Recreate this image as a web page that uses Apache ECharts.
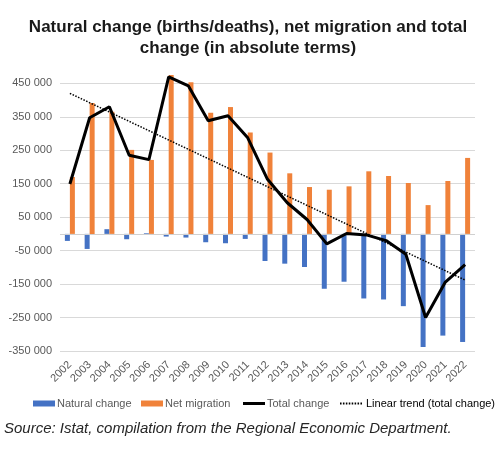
<!DOCTYPE html>
<html><head><meta charset="utf-8">
<script src="https://cdn.jsdelivr.net/npm/echarts@6/dist/echarts.min.js"></script>
<style>html,body{margin:0;padding:0;background:#fff}#c{width:496px;height:455px}</style>
</head><body><div id="c"></div>
<script>
const years = ['2002','2003','2004','2005','2006','2007','2008','2009','2010','2011','2012','2013','2014','2015','2016','2017','2018','2019','2020','2021','2022'];
const naturalChange = [-21000,-45000,14000,-16000,2000,-8000,-11000,-25000,-28000,-15000,-81000,-89000,-99000,-164000,-143000,-193000,-196000,-216000,-338000,-304000,-323000];
const netMigration = [170000,391000,365000,251000,221000,475000,453000,362000,379000,303000,243000,181000,140000,132000,142000,187000,173000,152000,86000,158000,227000];
const totalChange = [149000,347000,380000,235000,222000,469000,442000,338000,353000,287000,163000,93000,43000,-30000,1000,-3000,-20000,-61000,-250000,-144000,-92000];
const trendEnds = [420000,-138000];

const trend = years.map((y,i)=> i===0 ? trendEnds[0] : (i===years.length-1 ? trendEnds[1] : null));
const fmt = v => { const s = Math.abs(v).toString().replace(/\B(?=(\d{3})+(?!\d))/g,' '); return (v<0?'-':'')+s; };
const font = '"Liberation Sans",Arial,sans-serif';
let dots = '';
for (let i=0;i<8;i++){ dots += 'M'+(i*3)+',0h1.6v2h-1.6z'; }
const dotIcon = 'path://'+dots;
const chart = echarts.init(document.getElementById('c'), null, {renderer:'canvas'});
const lg = (name,left,extra) => Object.assign({data:[name], left:left, top:398, padding:0, itemWidth:22, itemHeight:6, itemGap:0,
  textStyle:{fontFamily:font, fontSize:11, color:'#595959', padding:[0,0,0,-3]}}, extra||{});
chart.setOption({
  animation:false,
  title:{text:'Natural change (births/deaths), net migration and total\nchange (in absolute terms)', left:'center', top:12,
    textStyle:{fontFamily:font, fontWeight:'bold', fontSize:17, lineHeight:21, color:'#1a1a1a'}},
  graphic:[{type:'text', left:4, top:421, style:{text:'Source: Istat, compilation from the Regional Economic Department.', fontFamily:font, fontStyle:'italic', fontSize:15, fill:'#262626'}}],
  legend:[
    lg('Natural change',33,{icon:'rect'}),
    lg('Net migration',141,{icon:'rect'}),
    lg('Total change',243,{icon:'rect', itemHeight:3}),
    lg('Linear trend (total change)',340,{icon:dotIcon, itemHeight:2, textStyle:{fontFamily:font, fontSize:11, color:'#000', padding:[0,0,0,-1]}})
  ],
  grid:{left:60, right:21, top:83.3, bottom:104, containLabel:false},
  xAxis:{type:'category', data:years, axisLine:{show:false}, axisTick:{show:false},
    axisLabel:{rotate:45, interval:0, margin:12, fontFamily:font, fontSize:11, color:'#595959'}},
  yAxis:{type:'value', min:-350000, max:450000, interval:100000,
    axisLabel:{formatter:v=>fmt(v), margin:8, fontFamily:font, fontSize:11, color:'#595959'},
    axisLine:{show:false}, axisTick:{show:false}, splitLine:{lineStyle:{color:'#D9D9D9', width:1}}},
  series:[
    {name:'Natural change', type:'bar', data:naturalChange, barWidth:5, barGap:'0%', clip:false, itemStyle:{color:'#4472C4'},
      markLine:{silent:true, symbol:'none', label:{show:false}, lineStyle:{color:'#D0D0D0', type:'solid', width:1}, data:[{yAxis:0}]}},
    {name:'Net migration', type:'bar', data:netMigration, barWidth:5, barGap:'0%', clip:false, itemStyle:{color:'#F0823A'}},
    {name:'Total change', type:'line', data:totalChange, symbol:'none', clip:false, lineStyle:{color:'#000', width:3}, itemStyle:{color:'#000'}, z:5},
    {name:'Linear trend (total change)', type:'line', data:trend, connectNulls:true, symbol:'none', clip:false, lineStyle:{color:'#000', width:1.5, type:[1.5,1.5]}, itemStyle:{color:'#000'}, z:6}
  ]
});
</script></body></html>
